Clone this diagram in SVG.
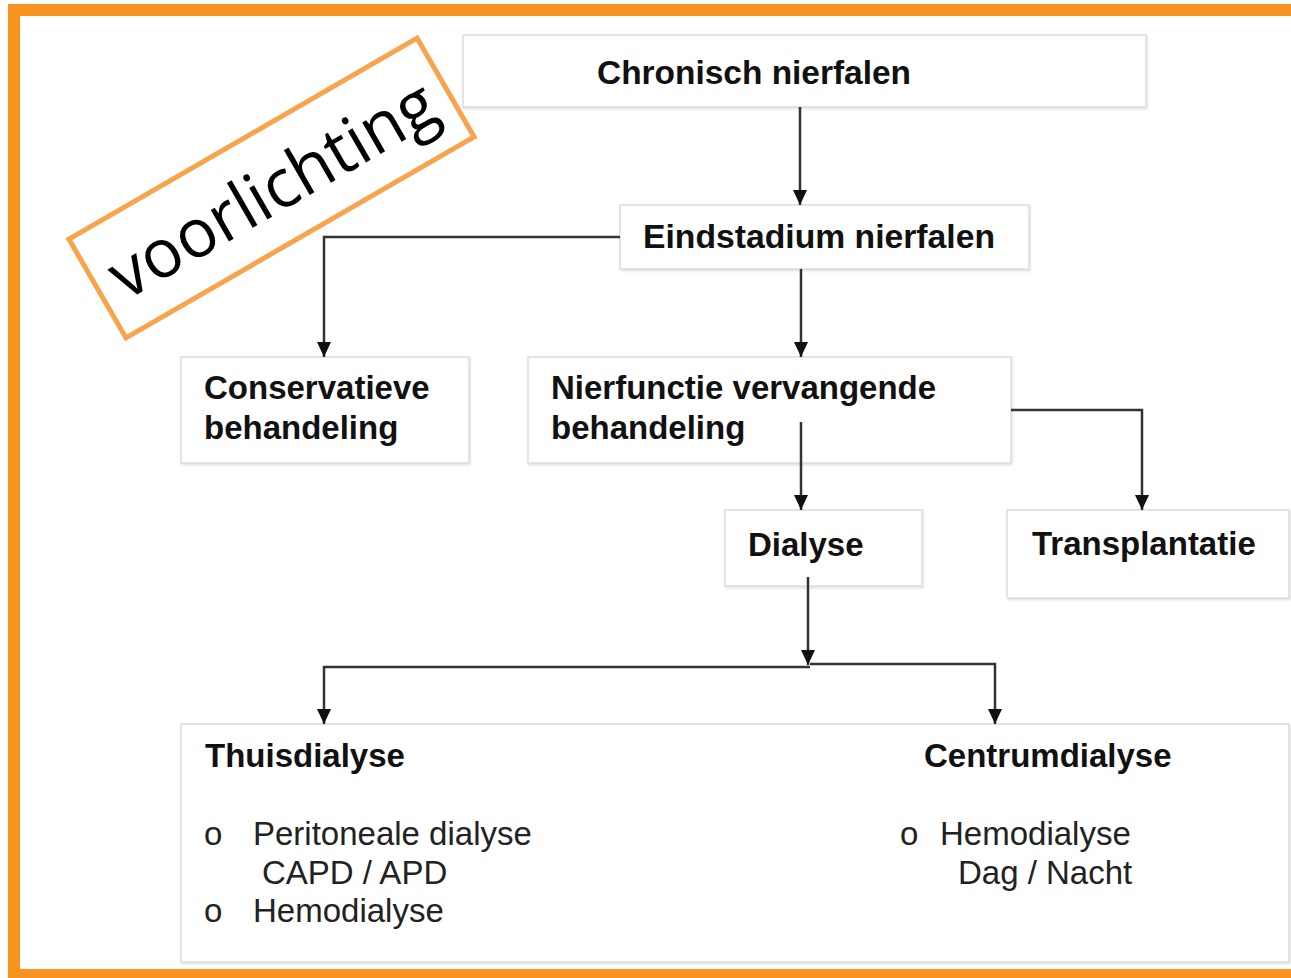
<svg xmlns="http://www.w3.org/2000/svg" width="1291" height="978" viewBox="0 0 1291 978">
<defs>
<marker id="ah" markerUnits="userSpaceOnUse" markerWidth="16" markerHeight="14" refX="15" refY="7" orient="auto" viewBox="0 0 16 14">
<path d="M0,0 L15,7 L0,14 Z" fill="#111"/>
</marker>
<filter id="sh" x="-5%" y="-5%" width="110%" height="115%">
<feDropShadow dx="1" dy="1.5" stdDeviation="1" flood-color="#000" flood-opacity="0.12"/>
</filter>
</defs>
<style>
.box{fill:#fff;stroke:#dcdcdc;stroke-width:1.5;filter:url(#sh)}
.b{font-family:"Liberation Sans",Arial,sans-serif;font-weight:bold;font-size:33px;fill:#111}
.r{font-family:"Liberation Sans",Arial,sans-serif;font-size:33px;fill:#222}
.c{fill:none;stroke:#333;stroke-width:2.5}
.frame{fill:#F7931E}
</style>
<rect x="0" y="0" width="1291" height="978" fill="#fff"/>
<g id="frame">
<rect class="frame" x="8" y="4" width="1283" height="12"/>
<rect class="frame" x="8" y="4" width="12" height="974"/>
<rect class="frame" x="8" y="969" width="1283" height="9"/>
</g>
<g id="n-chronisch">
<rect class="box" x="463" y="35" width="683" height="72"/>
<text class="b" x="597" y="84" textLength="314" lengthAdjust="spacingAndGlyphs">Chronisch nierfalen</text>
</g>
<g id="n-eindstadium">
<rect class="box" x="620" y="205" width="409" height="64"/>
<text class="b" x="643" y="248" textLength="352" lengthAdjust="spacingAndGlyphs">Eindstadium nierfalen</text>
</g>
<g id="n-conservatieve">
<rect class="box" x="181" y="357" width="288" height="106"/>
<text class="b" x="204" y="399">Conservatieve</text>
<text class="b" x="204" y="439">behandeling</text>
</g>
<g id="n-nierfunctie">
<rect class="box" x="528" y="357" width="483" height="106"/>
<text class="b" x="551" y="399">Nierfunctie vervangende</text>
<text class="b" x="551" y="439">behandeling</text>
</g>
<g id="n-dialyse">
<rect class="box" x="725" y="510" width="197" height="76"/>
<text class="b" x="748" y="556">Dialyse</text>
</g>
<g id="n-transplantatie">
<rect class="box" x="1007" y="510" width="282" height="88"/>
<text class="b" x="1032" y="555">Transplantatie</text>
</g>
<g id="n-dialysevormen">
<rect class="box" x="181" y="724" width="1108" height="238"/>
<text class="b" x="205" y="767">Thuisdialyse</text>
<text class="r" x="204" y="845">o</text>
<text class="r" x="253" y="845">Peritoneale dialyse</text>
<text class="r" x="262" y="884">CAPD / APD</text>
<text class="r" x="204" y="922">o</text>
<text class="r" x="253" y="922">Hemodialyse</text>
<text class="b" x="924" y="767">Centrumdialyse</text>
<text class="r" x="900" y="845">o</text>
<text class="r" x="940" y="845">Hemodialyse</text>
<text class="r" x="958" y="884">Dag / Nacht</text>
</g>
<g id="connectors">
<line class="c" x1="800" y1="107" x2="800" y2="205" marker-end="url(#ah)"/>
<polyline class="c" points="620,237 324,237 324,357" marker-end="url(#ah)"/>
<line class="c" x1="801" y1="269" x2="801" y2="357" marker-end="url(#ah)"/>
<line class="c" x1="801" y1="422" x2="801" y2="510" marker-end="url(#ah)"/>
<polyline class="c" points="1011,410 1142,410 1142,510" marker-end="url(#ah)"/>
<line class="c" x1="808" y1="577" x2="808" y2="665" marker-end="url(#ah)"/>
<polyline class="c" points="810,667 324,667 324,724" marker-end="url(#ah)"/>
<polyline class="c" points="810,664 995,664 995,724" marker-end="url(#ah)"/>
</g>
<g id="n-voorlichting" transform="translate(271.5,188) rotate(-30)">
<rect x="-201" y="-57" width="402" height="114" fill="#fff" stroke="#F9A44C" stroke-width="5"/>
<text x="0" y="25" text-anchor="middle" font-family="'Open Sans','Noto Sans',sans-serif" font-size="68" fill="#000" textLength="366" lengthAdjust="spacingAndGlyphs">voorlichting</text>
</g>
</svg>
